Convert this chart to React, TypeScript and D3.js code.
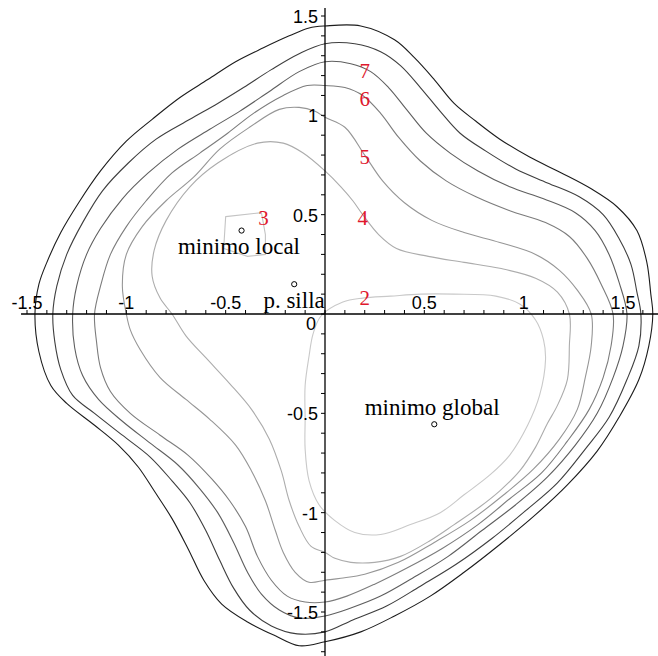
import React from "react";
import * as d3 from "d3";

const W = 658;
const H = 656;

// Contour lines of f(x, y), traced as [x, y] points, one array per level.
const level2: [number, number][] = [
  [-0.02, -0.01], [0.09, 0.06], [0.19, 0.08], [0.33, 0.09], [0.48, 0.1], [0.65, 0.1], [0.86, 0.09],
  [0.98, 0.05], [1.06, -0.03], [1.1, -0.13], [1.11, -0.23], [1.08, -0.41], [1.02, -0.56], [0.93, -0.71],
  [0.83, -0.81], [0.7, -0.91], [0.58, -1.0], [0.43, -1.06], [0.28, -1.11], [0.15, -1.1], [0.05, -1.04],
  [-0.03, -0.96], [-0.08, -0.84], [-0.1, -0.68], [-0.1, -0.53], [-0.1, -0.36], [-0.08, -0.21], [-0.06, -0.1],
];

const level3: [number, number][] = [
  [-0.5, 0.49], [-0.32, 0.51], [-0.3, 0.4], [-0.3, 0.3], [-0.39, 0.29], [-0.51, 0.33],
];

const level4: [number, number][] = [
  [0, 0.72], [0.08, 0.64], [0.14, 0.57], [0.19, 0.5], [0.27, 0.4], [0.36, 0.33], [0.52, 0.29], [0.7, 0.26],
  [0.88, 0.23], [1.06, 0.18], [1.17, 0.11], [1.23, 0], [1.23, -0.16], [1.22, -0.33], [1.17, -0.46],
  [1.12, -0.55], [1.06, -0.67], [0.98, -0.79], [0.88, -0.89], [0.78, -0.97], [0.65, -1.06], [0.53, -1.14],
  [0.38, -1.22], [0.25, -1.25], [0.13, -1.25], [0.05, -1.23], [0, -1.2], [-0.07, -1.17], [-0.13, -1.07],
  [-0.18, -0.94], [-0.22, -0.79], [-0.28, -0.63], [-0.37, -0.48], [-0.48, -0.35], [-0.6, -0.22],
  [-0.7, -0.11], [-0.77, 0], [-0.83, 0.08], [-0.87, 0.19], [-0.86, 0.32], [-0.8, 0.47], [-0.68, 0.64],
  [-0.54, 0.76], [-0.34, 0.86], [-0.21, 0.86], [-0.11, 0.81],
];

const level5: [number, number][] = [
  [0, 0.99], [0.1, 0.94], [0.2, 0.8], [0.29, 0.67], [0.4, 0.56], [0.54, 0.47], [0.7, 0.41], [0.88, 0.36],
  [1.06, 0.3], [1.18, 0.22], [1.27, 0.12], [1.34, 0], [1.34, -0.16], [1.31, -0.32], [1.27, -0.48],
  [1.18, -0.63], [1.05, -0.78], [0.9, -0.91], [0.73, -1.04], [0.55, -1.15], [0.37, -1.25], [0.2, -1.31],
  [0.08, -1.33], [0, -1.34], [-0.08, -1.35], [-0.15, -1.3], [-0.21, -1.2], [-0.25, -1.09], [-0.3, -0.94],
  [-0.37, -0.79], [-0.45, -0.66], [-0.58, -0.53], [-0.7, -0.43], [-0.83, -0.32], [-0.93, -0.18],
  [-0.98, -0.08], [-1.0, 0], [-1.02, 0.14], [-1.0, 0.3], [-0.92, 0.44], [-0.8, 0.57], [-0.66, 0.69],
  [-0.53, 0.83], [-0.38, 0.94], [-0.23, 1.03], [-0.13, 1.04], [-0.05, 1.02],
];

const level6: [number, number][] = [
  [0, 1.15], [0.1, 1.14], [0.19, 1.1], [0.28, 1.01], [0.37, 0.89], [0.48, 0.77], [0.61, 0.67], [0.76, 0.59],
  [0.93, 0.52], [1.11, 0.46], [1.23, 0.39], [1.32, 0.28], [1.39, 0.15], [1.45, 0], [1.44, -0.16],
  [1.4, -0.32], [1.33, -0.48], [1.22, -0.64], [1.09, -0.8], [0.93, -0.93], [0.77, -1.06], [0.59, -1.18],
  [0.41, -1.28], [0.25, -1.36], [0.11, -1.42], [0, -1.45], [-0.1, -1.45], [-0.19, -1.42], [-0.27, -1.34],
  [-0.34, -1.22], [-0.4, -1.07], [-0.48, -0.94], [-0.57, -0.83], [-0.69, -0.71], [-0.83, -0.61],
  [-0.98, -0.5], [-1.08, -0.39], [-1.13, -0.27], [-1.15, -0.14], [-1.16, 0], [-1.13, 0.14], [-1.08, 0.3],
  [-1.0, 0.44], [-0.9, 0.57], [-0.77, 0.71], [-0.63, 0.81], [-0.49, 0.91], [-0.36, 1.01], [-0.21, 1.1],
  [-0.09, 1.15],
];

const level7: [number, number][] = [
  [0, 1.27], [0.13, 1.26], [0.23, 1.22], [0.32, 1.14], [0.41, 1.03], [0.51, 0.91], [0.63, 0.81], [0.77, 0.72],
  [0.93, 0.64], [1.1, 0.58], [1.26, 0.51], [1.36, 0.42], [1.43, 0.3], [1.48, 0.16], [1.52, 0], [1.5, -0.16],
  [1.45, -0.32], [1.37, -0.5], [1.26, -0.66], [1.12, -0.82], [0.96, -0.96], [0.79, -1.09], [0.62, -1.22],
  [0.44, -1.33], [0.28, -1.42], [0.13, -1.48], [0, -1.52], [-0.13, -1.53], [-0.23, -1.49], [-0.32, -1.41],
  [-0.39, -1.3], [-0.46, -1.15], [-0.54, -1.0], [-0.63, -0.88], [-0.74, -0.76], [-0.88, -0.65],
  [-1.02, -0.54], [-1.14, -0.43], [-1.22, -0.31], [-1.26, -0.17], [-1.27, 0], [-1.25, 0.14], [-1.2, 0.3],
  [-1.13, 0.43], [-1.02, 0.58], [-0.89, 0.71], [-0.74, 0.83], [-0.58, 0.93], [-0.43, 1.02], [-0.28, 1.12],
  [-0.13, 1.22],
];

const level8: [number, number][] = [
  [0, 1.36], [0.15, 1.36], [0.28, 1.32], [0.38, 1.25], [0.48, 1.14], [0.58, 1.02], [0.68, 0.91], [0.81, 0.82],
  [0.96, 0.73], [1.12, 0.66], [1.28, 0.59], [1.4, 0.5], [1.48, 0.38], [1.54, 0.25], [1.57, 0.11], [1.59, 0],
  [1.58, -0.16], [1.52, -0.33], [1.43, -0.52], [1.31, -0.68], [1.17, -0.85], [1.01, -0.99], [0.84, -1.13],
  [0.66, -1.26], [0.48, -1.37], [0.31, -1.47], [0.14, -1.54], [0, -1.6], [-0.14, -1.61], [-0.27, -1.57],
  [-0.38, -1.49], [-0.46, -1.38], [-0.53, -1.24], [-0.6, -1.09], [-0.68, -0.95], [-0.77, -0.84],
  [-0.88, -0.72], [-1.02, -0.61], [-1.16, -0.5], [-1.27, -0.41], [-1.33, -0.28], [-1.36, -0.14],
  [-1.37, 0], [-1.35, 0.14], [-1.3, 0.3], [-1.22, 0.46], [-1.12, 0.62], [-0.99, 0.76], [-0.85, 0.88],
  [-0.68, 0.98], [-0.54, 1.06], [-0.41, 1.14], [-0.27, 1.23], [-0.13, 1.31],
];

const level9: [number, number][] = [
  [0, 1.45], [0.18, 1.45], [0.35, 1.38], [0.45, 1.29], [0.55, 1.18], [0.65, 1.06], [0.76, 0.97], [0.88, 0.88],
  [1.03, 0.79], [1.19, 0.71], [1.34, 0.63], [1.47, 0.54], [1.57, 0.42], [1.62, 0.26], [1.64, 0.1], [1.65, 0],
  [1.63, -0.16], [1.58, -0.33], [1.48, -0.52], [1.37, -0.69], [1.22, -0.86], [1.06, -1.01], [0.88, -1.16],
  [0.7, -1.3], [0.53, -1.42], [0.35, -1.52], [0.18, -1.6], [0, -1.65], [-0.13, -1.67], [-0.25, -1.62],
  [-0.39, -1.55], [-0.52, -1.46], [-0.61, -1.34], [-0.69, -1.18], [-0.77, -1.03], [-0.86, -0.89],
  [-0.94, -0.77], [-1.04, -0.66], [-1.16, -0.56], [-1.3, -0.45], [-1.38, -0.36], [-1.44, -0.19],
  [-1.46, 0], [-1.44, 0.15], [-1.4, 0.26], [-1.33, 0.41], [-1.24, 0.56], [-1.13, 0.72], [-1.0, 0.87],
  [-0.87, 0.98], [-0.73, 1.09], [-0.59, 1.18], [-0.45, 1.27], [-0.31, 1.34], [-0.18, 1.4], [-0.08, 1.44],
];

const contourLevels = [2, 3, 4, 5, 6, 7, 8, 9];
const contourLines = [level2, level3, level4, level5, level6, level7, level8, level9];
const contourGrays = ["#c9c9c9", "#c4c4c4", "#acacac", "#969696", "#7c7c7c", "#5e5e5e", "#3e3e3e", "#1c1c1c"];

// Critical points of f and their captions
const criticalPoints: [number, number][] = [[-0.42, 0.42], [-0.155, 0.15], [0.55, -0.555]];
const criticalCaptions = ["minimo local", "p. silla", "minimo global"];
const captionAnchors: [number, number][] = [[-0.74, 0.3], [-0.31, 0.03], [0.2, -0.51]];

// Level numbers written next to the contours
const levelTags = ["7", "6", "5", "4", "3", "2"];
const levelTagAnchors: [number, number][] = [[0.2, 1.19], [0.2, 1.045], [0.2, 0.755], [0.19, 0.45], [-0.31, 0.45], [0.2, 0.045]];

const xTickLabels = [-1.5, -1, -0.5, 0.5, 1, 1.5];
const yTickLabels = [-1.5, -1, -0.5, 0.5, 1, 1.5];
const xMinorTicks = d3.range(-15, 17).map((i) => i / 10);
const yMinorTicks = d3.range(-17, 16).map((i) => i / 10);
const xAxisExtent = [-1.53, 1.7];
const yAxisExtent = [-1.75, 1.54];

const x = d3.scaleLinear().domain([-1.5, 1.5]).range([27, 623]);
const y = d3.scaleLinear().domain([-1.5, 1.5]).range([612, 16]);

const smoothLine = d3
  .line<[number, number]>()
  .x((d) => x(d[0]))
  .y((d) => y(d[1]))
  .curve(d3.curveCatmullRomClosed.alpha(0.5));

const polyLine = d3
  .line<[number, number]>()
  .x((d) => x(d[0]))
  .y((d) => y(d[1]))
  .curve(d3.curveLinearClosed);

export default function App() {
  const fmt = (v: number) => String(v).replace("−", "-");
  return (
    <svg
      width={W}
      height={H}
      viewBox={`0 0 ${W} ${H}`}
      style={{ position: "absolute", left: 0, top: 0, background: "#fff", display: "block" }}
    >
      <rect width={W} height={H} fill="#fff" />
      {contourLines.map((pts, i) => (
        <path
          key={contourLevels[i]}
          d={(contourLevels[i] === 3 ? polyLine : smoothLine)(pts) || ""}
          fill="none"
          stroke={contourGrays[i]}
          strokeWidth={1.1}
        />
      ))}

      {/* axes */}
      <line x1={x(xAxisExtent[0])} x2={x(xAxisExtent[1])} y1={y(0)} y2={y(0)} stroke="#000" strokeWidth={1.3} />
      <line x1={x(0)} x2={x(0)} y1={y(yAxisExtent[0])} y2={y(yAxisExtent[1])} stroke="#000" strokeWidth={1.3} />
      {xMinorTicks.map((t) => (
        <line key={"xt" + t} x1={x(t)} x2={x(t)} y1={y(0) - 4} y2={y(0)} stroke="#000" strokeWidth={1} />
      ))}
      {yMinorTicks.map((t) => (
        <line key={"yt" + t} x1={x(0) - 4} x2={x(0)} y1={y(t)} y2={y(t)} stroke="#000" strokeWidth={1} />
      ))}
      {xTickLabels.map((t) => (
        <text
          key={"xl" + t}
          x={x(t)}
          y={y(0) - 5}
          textAnchor="middle"
          fontFamily="'Liberation Sans', Arial, sans-serif"
          fontSize={18}
          fill="#000"
        >
          {fmt(t)}
        </text>
      ))}
      {yTickLabels.map((t) => (
        <text
          key={"yl" + t}
          x={x(0) - 7}
          y={y(t) + 7}
          textAnchor="end"
          fontFamily="'Liberation Sans', Arial, sans-serif"
          fontSize={18}
          fill="#000"
        >
          {fmt(t)}
        </text>
      ))}
      <text
        x={x(0) - 9}
        y={y(0) + 16}
        textAnchor="end"
        fontFamily="'Liberation Sans', Arial, sans-serif"
        fontSize={18}
        fill="#000"
      >
        0
      </text>

      {/* critical points */}
      {criticalPoints.map((p, i) => (
        <circle key={"cp" + i} cx={x(p[0])} cy={y(p[1])} r={2.6} fill="#fff" stroke="#000" strokeWidth={1} />
      ))}
      {criticalCaptions.map((c, i) => (
        <text
          key={"cc" + i}
          x={x(captionAnchors[i][0])}
          y={y(captionAnchors[i][1])}
          fontFamily="'Liberation Serif', 'Times New Roman', serif"
          fontSize={23}
          fill="#000"
        >
          {c}
        </text>
      ))}

      {/* level numbers */}
      {levelTags.map((t, i) => (
        <text
          key={"lt" + i}
          x={x(levelTagAnchors[i][0])}
          y={y(levelTagAnchors[i][1])}
          textAnchor="middle"
          fontFamily="'Liberation Serif', 'Times New Roman', serif"
          fontSize={21}
          fill="#e0182d"
        >
          {t}
        </text>
      ))}
    </svg>
  );
}
